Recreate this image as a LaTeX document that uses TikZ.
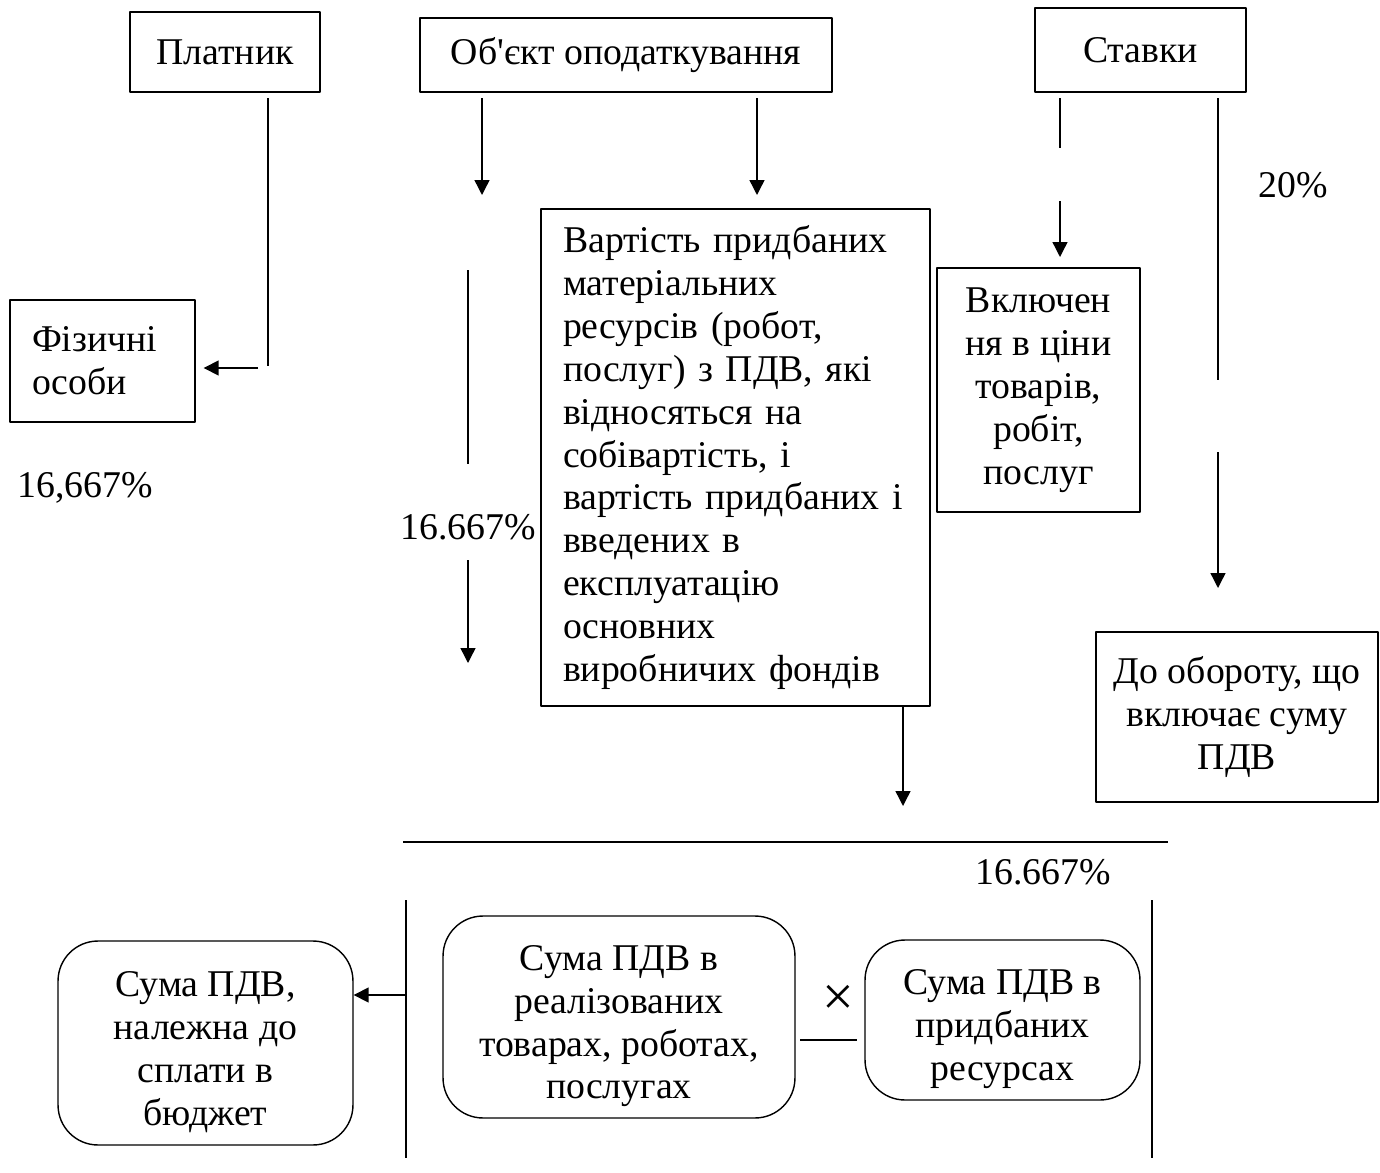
\documentclass[tikz,border=0pt]{standalone}
\usepackage{fontspec}
\setmainfont{Liberation Serif}
\newfontfamily\plainserif{Liberation Serif}
\usetikzlibrary{arrows.meta}
\newcommand{\topgap}{\rule{0pt}{0.87cm}}
\begin{document}
\begin{tikzpicture}[x=0.02cm, y=-0.02cm, line width=0.8pt, line join=round,
	font=\fontsize{21.5}{24.4}\selectfont, >={Triangle[length=3mm,width=3mm]},
	box/.style={draw, inner sep=0pt},
	rbox/.style={draw, rounded corners=0.8cm, inner sep=0pt, align=center}]
	\useasboundingbox (0,0) rectangle (1380,1173);
	% верхні блоки
	\node[box, minimum width=3.8cm, minimum height=1.6cm] (platnyk) at (225,52) {Платник};
	\node[box, minimum width=8.24cm, minimum height=1.48cm, font=\plainserif\fontsize{21.5}{24.4}\selectfont] (obiekt) at (626,55) {Об'єкт оподаткування};
	\node[box, minimum width=4.22cm, minimum height=1.68cm] (stavky) at (1140.5,50) {Ставки};
	% другий рівень
	\node[box, minimum width=3.7cm, minimum height=2.44cm, align=left, text width=2.82cm, inner xsep=0.44cm] (fiz) at (102.5,361) {Фізичні\\особи};
	\node[box, minimum width=7.78cm, minimum height=9.94cm, align=left, text width=6.9cm, inner xsep=0.44cm] (vart) at (735.5,457.5)
		{Вартість придбаних\\матеріальних\\ресурсів (робот,\\послуг) з ПДВ, які\\відносяться на\\собівартість, і\\вартість придбаних і\\введених в\\експлуатацію\\основних\\виробничих фондів};
	\node[box, minimum width=4.06cm, minimum height=4.88cm, align=center] (vkl) at (1038.5,390) {Включен\\ня в ціни\\товарів,\\робіт,\\послуг};
	\node[box, minimum width=5.64cm, minimum height=3.4cm, align=center] (obor) at (1237,717) {До обороту, що\\включає суму\\ПДВ};
	% нижній рівень
	\node[rbox, minimum width=5.9cm, minimum height=4.08cm] (suma) at (205.5,1043) {\topgap Сума ПДВ,\\належна до\\сплати в\\бюджет};
	\node[rbox, minimum width=7.04cm, minimum height=4.04cm] (real) at (619,1017) {\topgap Сума ПДВ в\\реалізованих\\товарах, роботах,\\послугах};
	\node[rbox, minimum width=5.5cm, minimum height=3.2cm] (prid) at (1002.5,1020) {\topgap Сума ПДВ в\\придбаних\\ресурсах};
	% підписи
	\node (p1) at (85,488) {16,667\%};
	\node (p2) at (468,527) {16.667\%};
	\node (p3) at (1293,185) {20\%};
	\node (p4) at (1043,872) {16.667\%};
	\node[font=\fontsize{32}{34}\selectfont] (mult) at (838,1000) {×};
	% точки ліній
	\coordinate (a1) at (268,98); \coordinate (a2) at (268,366);
	\coordinate (a3) at (258,368);
	\coordinate (b1) at (482,98); \coordinate (b2) at (482,195);
	\coordinate (c1) at (757,98); \coordinate (c2) at (757,195);
	\coordinate (d1) at (468,270); \coordinate (d2) at (468,464);
	\coordinate (d3) at (468,560); \coordinate (d4) at (468,663);
	\coordinate (e2) at (903,806);
	\coordinate (f1) at (1060,98); \coordinate (f2) at (1060,148);
	\coordinate (f3) at (1060,201); \coordinate (f4) at (1060,257);
	\coordinate (g1) at (1218,98); \coordinate (g2) at (1218,380);
	\coordinate (g3) at (1218,452); \coordinate (g4) at (1218,588);
	\coordinate (h1) at (403,842); \coordinate (h2) at (1168,842);
	\coordinate (v1) at (406,900); \coordinate (v2) at (406,1158);
	\coordinate (w1) at (1152,900); \coordinate (w2) at (1152,1158);
	\coordinate (k1) at (406,995);
	\coordinate (m1) at (800,1040); \coordinate (m2) at (857,1040);
	% лінії і стрілки
	\draw (a1) -- (a2);
	\draw[->, shorten >=0.16cm] (a3) -- (fiz.east |- a3);
	\draw[->] (b1) -- (b2);
	\draw[->] (c1) -- (c2);
	\draw (d1) -- (d2);
	\draw[->] (d3) -- (d4);
	\draw[->] (vart.south -| e2) -- (e2);
	\draw (f1) -- (f2);
	\draw[->] (f3) -- (f4);
	\draw (g1) -- (g2);
	\draw[->] (g3) -- (g4);
	\draw (h1) -- (h2);
	\draw (v1) -- (v2);
	\draw (w1) -- (w2);
	\draw[->] (k1) -- (suma.east |- k1);
	\draw (m1) -- (m2);
\end{tikzpicture}
\end{document}
